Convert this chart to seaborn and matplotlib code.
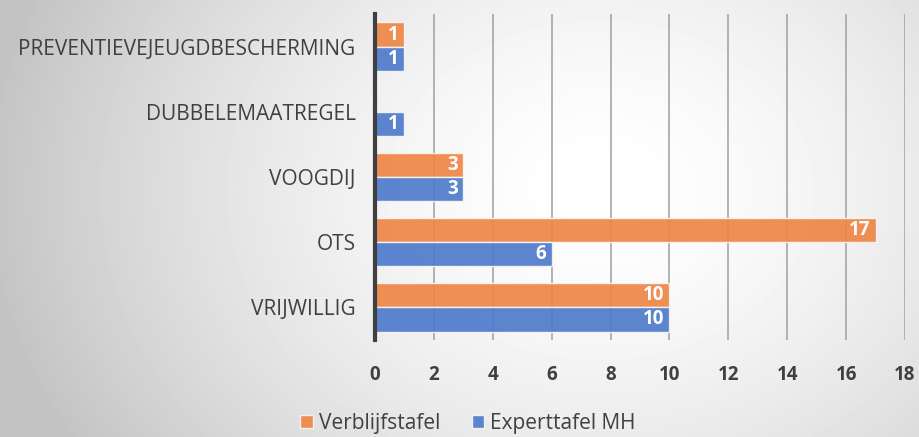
import numpy as np
import pandas as pd
import matplotlib
matplotlib.use("Agg")
import matplotlib.pyplot as plt
import seaborn as sns

categories = ["PREVENTIEVEJEUGDBESCHERMING", "DUBBELEMAATREGEL", "VOOGDIJ", "OTS", "VRIJWILLIG"]
verblijfstafel = [1, 0, 3, 17, 10]
experttafel_mh = [1, 1, 3, 6, 10]
series = ["Verblijfstafel", "Experttafel MH"]
colors = ["#EF8646", "#4F7BCB"]
xticks = [0, 2, 4, 6, 8, 10, 12, 14, 16, 18]

df = pd.DataFrame({
    "categorie": categories * 2,
    "reeks": [series[0]] * len(categories) + [series[1]] * len(categories),
    "waarde": verblijfstafel + experttafel_mh,
})

sns.set_style("white")
plt.rcParams['font.family'] = ['Open Sans', 'DejaVu Sans']
text_color = "#404040"

fig = plt.figure(figsize=(9.19, 4.37), dpi=100)

# radial gray background
bg = fig.add_axes([0, 0, 1, 1], zorder=-10)
yy, xx = np.mgrid[0:437, 0:919]
r = np.sqrt(((xx - 600) / 540.0) ** 2 + ((yy - 190) / 430.0) ** 2)
shade = np.clip(1.0 - 0.19 * r ** 1.6, 0.76, 1.0)
bg.imshow(shade, cmap="gray", vmin=0, vmax=1, aspect="auto", extent=[0, 1, 0, 1])
bg.axis("off")

ax = fig.add_axes([375 / 919, 1 - 340 / 437, 530 / 919, 326 / 437])
ax.patch.set_alpha(0)

sns.barplot(data=df, y="categorie", x="waarde", hue="reeks", order=categories,
            hue_order=series, palette=colors, saturation=1, orient="h", width=0.74, gap=0,
            alpha=0.92, edgecolor="#f6f6f6", linewidth=1, ax=ax, zorder=3)

for container in ax.containers:
    labels = [f"{v:g}" if v > 0 else "" for v in container.datavalues]
    texts = ax.bar_label(container, labels=labels, label_type="edge", padding=-4,
                         color="white", fontsize=13.5, fontweight="bold")
    for t in texts:
        t.set_ha("right")

ax.set_xlim(0, 18)
ax.set_xticks(xticks)
ax.set_xticklabels([str(t) for t in xticks], fontsize=13.5, fontweight="bold", color=text_color)
ax.tick_params(axis="x", length=0, pad=18)
ax.tick_params(axis="y", length=0, pad=14, labelsize=15, labelcolor=text_color)
ax.set_xlabel("")
ax.set_ylabel("")
ax.xaxis.grid(True, color="#a6a6a6", linewidth=1.2, zorder=0)
ax.set_axisbelow(True)
for side in ["top", "right", "bottom"]:
    ax.spines[side].set_visible(False)
ax.spines["left"].set_color("#404040")
ax.spines["left"].set_linewidth(3)
ax.spines["left"].set_zorder(5)

leg = ax.legend(loc="upper center", bbox_to_anchor=(0.5 - 172 / 530, -0.165), ncol=2,
                frameon=False, fontsize=15, handlelength=0.6, handleheight=0.6,
                handletextpad=0.3, columnspacing=1.5)
for t in leg.get_texts():
    t.set_color(text_color)

plt.savefig("out.png", dpi=100)
plt.close(fig)
